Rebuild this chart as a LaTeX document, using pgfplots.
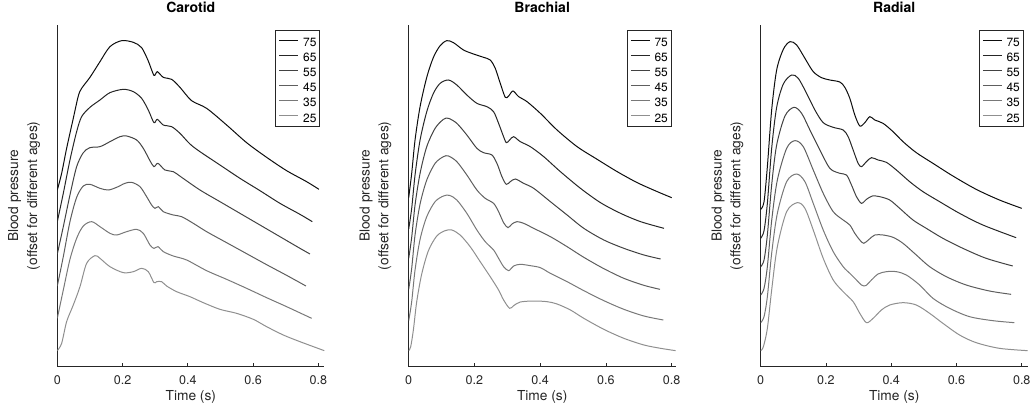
\documentclass[border=0pt]{standalone}
\usepackage{fontspec}
\setmainfont{TeX Gyre Heros}
\usepackage{pgfplots}
\pgfplotsset{compat=1.18}
\definecolor{c75}{gray}{0.05}
\definecolor{c65}{gray}{0.15}
\definecolor{c55}{gray}{0.26}
\definecolor{c45}{gray}{0.37}
\definecolor{c35}{gray}{0.47}
\definecolor{c25}{gray}{0.56}
\definecolor{axc}{gray}{0.15}
\pgfplotsset{
  panel/.style={
    scale only axis, width=267bp, height=341.67bp,
    xmin=0, ymin=0, ymax=102.5,
    axis x line*=bottom, axis y line*=left,
    xtick={0,0.2,0.4,0.6,0.8}, xticklabels={0,0.2,0.4,0.6,0.8},
    ytick=\empty,
    tick align=inside, major tick length=3.3bp,
    axis line style={line width=0.7bp, axc},
    every tick/.style={axc, line width=0.7bp},
    xticklabel style={anchor=base, yshift=-17.6bp, font=\fontsize{12.6}{15}\selectfont, text=axc},
    xlabel={Time (s)},
    xlabel style={at={(axis description cs:0.5,0)}, anchor=base, yshift=-33.5bp, font=\fontsize{13.8}{17}\selectfont, text=axc},
    ylabel={Blood pressure\\(offset for different ages)},
    ylabel style={at={(axis description cs:-0.1243,0.5)}, anchor=center, align=center, font=\fontsize{13.8}{19}\selectfont, text=axc},
    title style={at={(axis description cs:0.5,1)}, anchor=base, yshift=6.7bp, font=\bfseries\fontsize{14.1}{17}\selectfont},
    legend style={at={(axis description cs:1,1)}, anchor=north east, xshift=-4.3bp, yshift=-5.5bp,
      draw=axc, line width=0.6bp, fill=white, inner xsep=3.3bp, inner ysep=4.3bp,
      font=\fontsize{12}{13}\selectfont, row sep=3.6bp,
      nodes={inner sep=0pt, text height=11.5bp, text depth=0bp},
      /tikz/every odd column/.style={column sep=4.2bp}, cells={anchor=west}},
    legend image code/.code={\draw[#1] (0bp,0.6bp) -- (19bp,0.6bp);},
    legend entries={75,65,55,45,35,25},
    every axis plot/.append style={line width=1.0bp, smooth, tension=0.5},
  }
}
\begin{document}
\begin{tikzpicture}
\useasboundingbox (0,0) rectangle (1036bp,407bp);
% ---------------- Carotid ----------------
\begin{axis}[panel, at={(57.3bp,40.33bp)}, anchor=south west, xmax=0.8184, title={Carotid}]
\addplot[c75] coordinates {(0,53.0) (0.0133,58.0) (0.0286,65.5) (0.0490,74.5) (0.0644,81.2) (0.0746,83.5) (0.1001,86.8) (0.1308,91.5) (0.1614,96.0) (0.1972,97.8) (0.2330,97.3) (0.2585,95.7) (0.2789,91.7) (0.2963,87.4) (0.3065,88.5) (0.3249,86.8) (0.3504,86.2) (0.3760,83.8) (0.4117,79.8) (0.4577,77.5) (0.5190,72.5) (0.5803,67.2) (0.6416,62.8) (0.7029,58.8) (0.7642,55.5) (0.8020,53.2)};
\addplot[c65] coordinates {(0,43.5) (0.0184,52.0) (0.0388,62.0) (0.0593,70.5) (0.0746,75.0) (0.1001,77.8) (0.1308,80.0) (0.1614,82.2) (0.2023,83.2) (0.2330,82.5) (0.2585,80.5) (0.2789,77.0) (0.2963,73.2) (0.3065,74.2) (0.3249,72.5) (0.3504,72.0) (0.3760,70.0) (0.4066,66.8) (0.4373,64.5) (0.4986,60.5) (0.5599,56.5) (0.6212,52.8) (0.6825,49.0) (0.7438,45.7) (0.7816,43.5)};
\addplot[c55] coordinates {(0,33.8) (0.0184,42.0) (0.0388,51.5) (0.0593,60.0) (0.0797,64.2) (0.1001,65.7) (0.1308,66.0) (0.1614,67.5) (0.1921,69.0) (0.2125,69.2) (0.2432,68.0) (0.2636,65.5) (0.2840,61.8) (0.2963,60.0) (0.3086,61.0) (0.3300,59.0) (0.3556,58.5) (0.3811,56.8) (0.4373,53.0) (0.4986,49.5) (0.5599,46.0) (0.6212,42.5) (0.6825,39.0) (0.7438,35.5) (0.7745,33.8)};
\addplot[c45] coordinates {(0,24.2) (0.0184,33.0) (0.0388,43.5) (0.0593,50.8) (0.0797,54.2) (0.1001,54.7) (0.1308,53.5) (0.1563,53.0) (0.1819,53.8) (0.2074,55.0) (0.2278,55.3) (0.2534,54.0) (0.2738,51.0) (0.2891,48.5) (0.2994,47.5) (0.3096,48.0) (0.3249,46.5) (0.3556,45.5) (0.3811,45.0) (0.4169,43.0) (0.4577,40.5) (0.5190,37.2) (0.5803,33.9) (0.6416,30.6) (0.7029,27.4) (0.7622,24.2)};
\addplot[c35] coordinates {(0,14.5) (0.0184,23.0) (0.0388,32.2) (0.0593,38.5) (0.0797,42.2) (0.1052,43.5) (0.1308,42.0) (0.1614,40.0) (0.1819,39.5) (0.2125,40.5) (0.2432,41.2) (0.2636,40.0) (0.2840,36.5) (0.2963,35.5) (0.3086,36.0) (0.3249,34.5) (0.3556,33.2) (0.3964,32.0) (0.4577,28.8) (0.5190,26.2) (0.5803,23.5) (0.6416,20.7) (0.7029,18.0) (0.7796,14.5)};
\addplot[c25] coordinates {(0,4.8) (0.0133,7.0) (0.0286,13.5) (0.0490,18.5) (0.0695,24.0) (0.0899,31.0) (0.1155,33.3) (0.1308,32.5) (0.1614,30.0) (0.2023,28.2) (0.2330,28.5) (0.2585,29.5) (0.2789,28.5) (0.2963,25.2) (0.3045,25.5) (0.3198,25.5) (0.3351,24.2) (0.3658,22.5) (0.4066,21.0) (0.4475,19.2) (0.4986,17.2) (0.5497,16.0) (0.6008,14.2) (0.6416,12.0) (0.6927,9.5) (0.7438,7.5) (0.8184,4.8)};
\end{axis}
% ---------------- Brachial ----------------
\begin{axis}[panel, at={(408.7bp,40.33bp)}, anchor=south west, xmax=0.8122, title={Brachial}]
\addplot[c75] coordinates {(0,50.7) (0.0091,58.0) (0.0193,68.0) (0.0346,78.0) (0.0549,86.8) (0.0752,92.8) (0.0956,96.3) (0.1159,97.8) (0.1362,97.2) (0.1667,95.0) (0.1972,93.8) (0.2277,92.8) (0.2480,92.0) (0.2633,89.5) (0.2785,85.0) (0.2938,80.8) (0.3040,81.2) (0.3172,82.7) (0.3344,81.0) (0.3599,79.5) (0.4005,76.0) (0.4513,71.0) (0.5123,66.0) (0.5733,62.2) (0.6343,58.5) (0.6953,55.2) (0.7563,52.5) (0.8000,50.7)};
\addplot[c65] coordinates {(0,41.3) (0.0091,47.5) (0.0193,57.5) (0.0346,68.0) (0.0549,76.5) (0.0752,82.0) (0.0956,85.0) (0.1210,86.0) (0.1464,84.5) (0.1769,81.5) (0.2074,79.0) (0.2379,78.0) (0.2582,76.5) (0.2734,73.0) (0.2867,69.5) (0.2968,67.2) (0.3070,68.0) (0.3192,69.0) (0.3395,67.5) (0.3700,66.0) (0.4107,63.0) (0.4615,58.5) (0.5225,53.5) (0.5835,49.2) (0.6445,46.0) (0.7055,43.5) (0.7766,41.5)};
\addplot[c55] coordinates {(0,32.5) (0.0091,38.8) (0.0193,48.5) (0.0346,58.0) (0.0549,66.0) (0.0803,71.5) (0.1057,74.2) (0.1210,74.5) (0.1464,73.0) (0.1769,69.5) (0.2074,65.5) (0.2277,64.2) (0.2531,63.5) (0.2684,61.0) (0.2836,57.0) (0.2968,54.7) (0.3090,55.5) (0.3243,56.3) (0.3497,55.0) (0.3802,53.5) (0.4310,49.5) (0.4818,45.5) (0.5327,41.5) (0.5936,38.0) (0.6546,35.5) (0.7156,33.5) (0.7665,32.3)};
\addplot[c45] coordinates {(0,23.2) (0.0091,29.5) (0.0193,39.5) (0.0346,48.8) (0.0549,56.0) (0.0803,61.0) (0.1057,63.0) (0.1210,63.2) (0.1464,61.5) (0.1769,57.5) (0.2074,53.0) (0.2328,50.5) (0.2582,49.0) (0.2734,46.5) (0.2887,43.2) (0.3019,41.7) (0.3141,42.8) (0.3294,43.5) (0.3497,43.0) (0.3802,41.5) (0.4310,39.0) (0.4818,36.0) (0.5327,32.8) (0.5936,29.4) (0.6546,26.5) (0.7156,24.4) (0.7644,23.2)};
\addplot[c35] coordinates {(0,13.8) (0.0091,19.5) (0.0193,29.0) (0.0346,38.2) (0.0549,45.0) (0.0803,49.5) (0.1057,51.2) (0.1240,51.4) (0.1464,50.0) (0.1769,46.0) (0.2074,41.0) (0.2328,37.5) (0.2582,35.0) (0.2734,32.5) (0.2887,30.0) (0.3040,28.8) (0.3192,30.2) (0.3395,30.7) (0.3700,30.3) (0.4005,29.7) (0.4310,28.0) (0.4818,25.5) (0.5327,22.8) (0.5936,19.8) (0.6546,17.2) (0.7156,15.2) (0.7746,14.0)};
\addplot[c25] coordinates {(0,4.8) (0.0061,6.0) (0.0142,11.0) (0.0244,19.5) (0.0396,27.8) (0.0600,34.8) (0.0854,39.2) (0.1108,40.8) (0.1311,41.0) (0.1565,39.5) (0.1870,36.0) (0.2175,31.5) (0.2480,27.0) (0.2734,23.0) (0.2887,20.0) (0.3070,17.5) (0.3192,18.3) (0.3395,19.4) (0.3802,19.7) (0.4208,19.5) (0.4513,18.8) (0.4920,17.0) (0.5327,14.5) (0.5936,11.2) (0.6546,8.5) (0.7156,6.5) (0.7665,5.5) (0.8122,4.8)};
\end{axis}
% ---------------- Radial ----------------
\begin{axis}[panel, at={(760.7bp,40.33bp)}, anchor=south west, xmax=0.8183, title={Radial}]
\addplot[c75] coordinates {(0,47.2) (0.0102,49.5) (0.0204,60.0) (0.0336,77.0) (0.0489,89.0) (0.0693,95.2) (0.0897,97.5) (0.1101,96.5) (0.1355,92.5) (0.1610,88.5) (0.1865,86.7) (0.2120,86.0) (0.2425,85.4) (0.2578,83.8) (0.2731,80.5) (0.2884,75.5) (0.3037,72.2) (0.3190,73.2) (0.3343,75.0) (0.3496,74.0) (0.3750,73.0) (0.4056,70.5) (0.4362,67.5) (0.4769,64.2) (0.5279,61.0) (0.5890,57.2) (0.6604,53.2) (0.7317,50.0) (0.8000,47.5)};
\addplot[c65] coordinates {(0,38.5) (0.0102,40.8) (0.0204,49.0) (0.0336,65.5) (0.0489,77.8) (0.0693,84.8) (0.0948,87.5) (0.1152,86.5) (0.1406,82.0) (0.1661,77.0) (0.1916,73.2) (0.2222,71.8) (0.2527,71.0) (0.2680,69.0) (0.2833,65.0) (0.2986,61.0) (0.3088,60.0) (0.3241,61.5) (0.3394,62.7) (0.3597,62.0) (0.3852,61.3) (0.4158,59.0) (0.4566,55.5) (0.4973,52.5) (0.5483,49.5) (0.6094,46.0) (0.6808,42.5) (0.7827,38.7)};
\addplot[c55] coordinates {(0,30.0) (0.0102,32.0) (0.0204,39.5) (0.0336,54.5) (0.0489,66.5) (0.0744,75.2) (0.1019,77.8) (0.1254,76.0) (0.1508,71.0) (0.1814,65.0) (0.2120,59.5) (0.2425,58.0) (0.2629,57.5) (0.2782,54.5) (0.2935,51.0) (0.3088,49.0) (0.3241,50.2) (0.3424,51.2) (0.3648,51.0) (0.3954,50.0) (0.4260,47.5) (0.4667,44.0) (0.5075,41.5) (0.5585,38.5) (0.6196,35.5) (0.6910,32.5) (0.7725,30.2)};
\addplot[c45] coordinates {(0,21.5) (0.0102,23.5) (0.0204,30.0) (0.0336,43.8) (0.0510,56.0) (0.0795,65.5) (0.1050,67.8) (0.1304,66.0) (0.1610,59.0) (0.1916,52.0) (0.2222,46.5) (0.2527,44.0) (0.2731,42.5) (0.2884,40.0) (0.3037,38.0) (0.3159,37.0) (0.3322,38.2) (0.3496,39.5) (0.3750,39.5) (0.4056,38.8) (0.4362,37.0) (0.4769,33.5) (0.5177,30.0) (0.5687,27.0) (0.6298,24.5) (0.7011,22.7) (0.7674,21.7)};
\addplot[c35] coordinates {(0,13.2) (0.0102,15.0) (0.0204,21.0) (0.0336,34.0) (0.0510,46.0) (0.0795,55.5) (0.1101,57.8) (0.1355,55.5) (0.1610,49.0) (0.1916,41.0) (0.2222,34.5) (0.2527,30.0) (0.2731,28.0) (0.2935,26.0) (0.3088,24.5) (0.3220,24.3) (0.3394,26.0) (0.3597,27.8) (0.3852,28.5) (0.4158,28.5) (0.4464,27.5) (0.4871,24.5) (0.5279,20.5) (0.5788,17.5) (0.6400,15.0) (0.7113,13.8) (0.7776,13.2)};
\addplot[c25] coordinates {(0,4.8) (0.0082,6.0) (0.0204,11.5) (0.0336,23.0) (0.0510,36.0) (0.0795,46.5) (0.1121,49.2) (0.1355,47.5) (0.1610,41.0) (0.1916,32.5) (0.2222,26.0) (0.2527,22.5) (0.2833,19.5) (0.3037,16.0) (0.3241,13.2) (0.3445,14.5) (0.3699,17.0) (0.3954,18.5) (0.4362,19.2) (0.4769,18.5) (0.5177,16.0) (0.5585,13.0) (0.6094,9.5) (0.6604,7.2) (0.7317,5.5) (0.8183,4.8)};
\end{axis}
\end{tikzpicture}
\end{document}
